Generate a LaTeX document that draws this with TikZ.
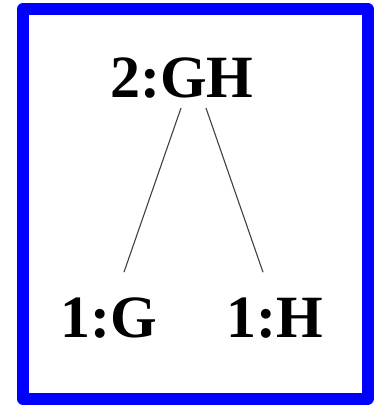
\documentclass[tikz,border=0pt]{standalone}
\usepackage{fontspec}
\setmainfont{Liberation Serif}
\usetikzlibrary{positioning}

\begin{document}
\begin{tikzpicture}[x=1pt,y=-1pt, every node/.style={inner sep=0pt,font=\fontsize{60}{72}\selectfont\bfseries}]
    \useasboundingbox (0,0) rectangle (378,405);
    \draw[line width=12pt,blue,line join=round] (23,9) rectangle (367.5,398.5);
    \node[anchor=base] (gh) at (182,97) {2:GH};
    \node[anchor=base] (g) at (109,337) {1:G};
    \node[anchor=base] (h) at (275,337) {1:H};
    \draw[black!75,line width=1.1pt] ([xshift=-1pt,yshift=-10pt]gh.south) -- ([xshift=15pt,yshift=25pt]g.north);
    \draw[black!75,line width=1.1pt] ([xshift=24pt,yshift=-10pt]gh.south) -- ([xshift=-12pt,yshift=25pt]h.north);
  \end{tikzpicture}
\end{document}
